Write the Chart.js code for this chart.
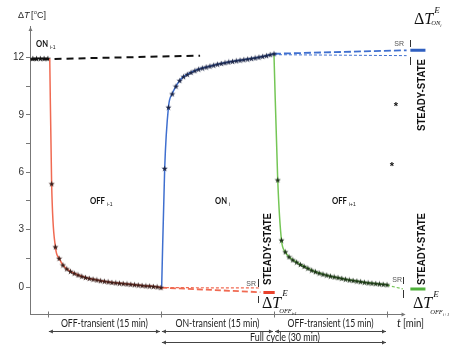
<!DOCTYPE html>
<html><head><meta charset="utf-8">
<script src="https://cdn.jsdelivr.net/npm/chart.js@4/dist/chart.umd.min.js"></script>
<style>html,body{margin:0;padding:0;background:#fff}#wrap{width:454px;height:345px}</style>
</head><body><div id="wrap"><canvas id="c" width="454" height="345"></canvas></div>
<script>
// ---------- data ----------
const yTicks = [0, 1.5, 3, 4.5, 6, 7.5, 9, 10.5, 12];
const yTickLabels = ['0', '', '3', '', '6', '', '9', '', '12'];
const xTicks = [0, 15, 30, 45];

const tOnPrev = [-2, -1.5, -1, -0.5, 0];
const onPrev = [11.95, 11.95, 11.95, 11.95, 11.95];

const tOffPrev = [0.25,0.5,1,1.5,2,2.5,3,3.5,4,4.5,5,5.5,6,6.5,7,7.5,8,8.5,9,9.5,10,10.5,11,11.5,12,12.5,13,13.5,14,14.5,15];
const offPrev = [11.95,5.4,2.1,1.5,1.15,0.95,0.82,0.72,0.63,0.56,0.5,0.45,0.41,0.37,0.33,0.3,0.27,0.24,0.22,0.2,0.18,0.16,0.14,0.12,0.1,0.08,0.06,0.05,0.03,0.01,-0.03];

const tOnCur = [15.1,15.5,16,16.5,17,17.5,18,18.5,19,19.5,20,20.5,21,21.5,22,22.5,23,23.5,24,24.5,25,25.5,26,26.5,27,27.5,28,28.5,29,29.5,30];
const onCur = [-0.03,6.2,9.4,10.1,10.5,10.8,11.0,11.12,11.22,11.31,11.39,11.45,11.5,11.55,11.6,11.65,11.69,11.73,11.77,11.8,11.83,11.86,11.89,11.92,11.95,11.98,12.02,12.06,12.1,12.15,12.2];

const tOffNext = [30,30.5,31,31.5,32,32.5,33,33.5,34,34.5,35,35.5,36,36.5,37,37.5,38,38.5,39,39.5,40,40.5,41,41.5,42,42.5,43,43.5,44,44.5,45];
const offNext = [12.2,5.6,2.45,1.84,1.58,1.42,1.3,1.18,1.08,0.98,0.88,0.8,0.73,0.67,0.62,0.57,0.53,0.49,0.45,0.41,0.37,0.34,0.31,0.28,0.25,0.22,0.2,0.18,0.16,0.14,0.12];

// extrapolation / steady-state lines
const blackRefT = [-2.3, 20.2];   const blackRefV = [11.9, 12.1];
const redExtT = [15, 28.2];       const redExtA = [-0.03, -0.05]; const redExtB = [-0.03, -0.27];
const redSsT = [28.6, 30.1];      const redSsV = [-0.28, -0.28];
const blueExtT = [30, 47.6];      const blueExtA = [12.2, 12.38];  const blueExtB = [12.15, 12.1];
const blueSsT = [48.1, 50.1];     const blueSsV = [12.38, 12.38];
const greenExtT = [45, 47.1];     const greenExtV = [0.1, -0.1];
const greenSsT = [48.1, 50.1];    const greenSsV = [-0.1, -0.1];

// ---------- helpers ----------
const pts = (xs, ys) => xs.map((x, i) => ({x, y: ys[i]}));
function starImg(color){
  const c = document.createElement('canvas'); c.width = 7; c.height = 7;
  const g = c.getContext('2d'); g.fillStyle = color; g.beginPath();
  for (let i = 0; i < 10; i++) { const r = i % 2 ? 1.3 : 3.2; const a = -Math.PI/2 + i*Math.PI/5; g.lineTo(3.5 + r*Math.cos(a), 3.8 + r*Math.sin(a)); }
  g.closePath(); g.fill(); return c;
}
const RED = '#f06a52', BLUE = '#3f6fcf', GREEN = '#74c655';
const starR = starImg('#3a1c18'), starB = starImg('#1c2648'), starG = starImg('#1c3318'), starK = starImg('#111');

function curve(data, color, star){
  return {data, showLine: true, borderColor: color, borderWidth: 1.5, cubicInterpolationMode: 'monotone',
    pointStyle: star, pointRadius: c => c.dataIndex === 0 ? 0 : 3, order: 0};
}
function dline(data, color, width, dash){
  return {data, showLine: true, borderColor: color, borderWidth: width, borderDash: dash || [], pointRadius: 0, order: 1};
}

function fitText(g, s, x, y, font, w, align){
  g.save(); g.font = font; const m = g.measureText(s).width; const k = w ? w / m : 1;
  g.translate(x, y); g.scale(k, 1); g.textAlign = align || 'left'; g.fillText(s, 0, 0); g.restore();
}
function arrowHead(g, x, y, dir){ // dir: 1 right, -1 left
  g.beginPath(); g.moveTo(x, y); g.lineTo(x - dir*4, y - 2); g.lineTo(x - dir*4, y + 2); g.closePath(); g.fill();
}
function dte(g, x, base, sub, subsub, eBase, subBase){
  g.fillStyle = '#111';
  g.font = '16px "Liberation Serif"'; g.textAlign = 'left'; g.fillText('Δ', x, base);
  const w1 = g.measureText('Δ').width;
  g.font = 'italic 16px "Liberation Serif"'; g.fillText('T', x + w1, base);
  const w2 = g.measureText('T').width;
  g.font = 'italic 9px "Liberation Serif"'; g.fillText('E', x + w1 + w2 + 1, eBase);
  g.font = 'italic 6.5px "Liberation Serif"'; const sx = x + w1 + w2 - 2; g.fillText(sub, sx, subBase);
  const w3 = g.measureText(sub).width;
  g.font = 'italic 4.5px "Liberation Serif"'; g.fillText(subsub, sx + w3, subBase + 1.5);
}
function label(g, main, sub, x, base, w){
  g.fillStyle = '#111';
  fitText(g, main, x, base, 'bold 10px Lato', w, 'left');
  g.font = '5px "Liberation Sans"'; g.textAlign = 'left'; g.fillText(sub, x + w + 2, base + 2);
}

const annot = {
  id: 'annot',
  afterDraw(chart){
    const g = chart.ctx, xs = chart.scales.x, ys = chart.scales.y, ca = chart.chartArea;
    const X = v => xs.getPixelForValue(v), Y = v => ys.getPixelForValue(v);
    g.save();
    // axes
    g.strokeStyle = '#777'; g.fillStyle = '#777'; g.lineWidth = 1;
    const xb = Math.round(ca.bottom) + 0.5, xEnd = X(47.2);
    g.beginPath(); g.moveTo(ca.left, xb); g.lineTo(xEnd, xb); g.stroke();
    arrowHead(g, xEnd + 2, xb, 1);
    g.beginPath(); g.moveTo(ca.left + 0.5, ca.top + 1); g.lineTo(ca.left - 1.5, ca.top + 5); g.lineTo(ca.left + 2.5, ca.top + 5); g.closePath(); g.fill();
    xTicks.forEach(t => { const px = Math.round(X(t)) + 0.5; g.beginPath(); g.moveTo(px, xb - 3); g.lineTo(px, xb + 3); g.stroke(); });
    // y axis title
    g.fillStyle = '#222'; g.textAlign = 'left';
    g.font = '9px "Liberation Sans"'; g.fillText('Δ', 18, 18);
    g.font = 'italic 9px "Liberation Sans"'; g.fillText('T', 24, 18);
    g.font = '9px "Liberation Sans"'; g.fillText('[', 31, 18);
    g.font = '5px "Liberation Sans"'; g.fillText('o', 34, 14);
    g.font = '9px "Liberation Sans"'; g.fillText('C]', 37, 18);
    // bottom arrows
    g.strokeStyle = '#444'; g.fillStyle = '#444';
    const seg = (t0, t1, y) => { const a = X(t0) + 1, b = X(t1) - 1; g.beginPath(); g.moveTo(a, y); g.lineTo(b, y); g.stroke(); arrowHead(g, a, y, -1); arrowHead(g, b, y, 1); };
    seg(0, 15, 331.5); seg(15, 30, 331.5); seg(30, 45, 331.5); seg(15, 45, 342.5);
    g.fillStyle = '#222';
    fitText(g, 'OFF-transient (15 min)', X(7.5), 327, '11px Lato', 87, 'center');
    fitText(g, 'ON-transient (15 min)', X(22.5), 327, '11px Lato', 84, 'center');
    fitText(g, 'OFF-transient (15 min)', X(37.5), 327, '11px Lato', 86, 'center');
    fitText(g, 'Full cycle (30 min)', 285, 341, '11px Lato', 70, 'center');
    g.font = 'italic 11px Lato'; g.textAlign = 'left'; g.fillText('t', 397, 327);
    fitText(g, '[min]', 403, 327, '11px Lato', 21, 'left');
    // phase labels
    label(g, 'ON', 'i-1', 36, 47, 12);
    label(g, 'OFF', 'i-1', 90, 204, 15);
    label(g, 'ON', 'i', 215, 204, 12);
    label(g, 'OFF', 'i+1', 332, 204, 15);
    // steady-state texts
    g.fillStyle = '#111';
    [[268, 285], [422, 285], [422, 131]].forEach(([x, y]) => {
      g.save(); g.translate(x, y); g.rotate(-Math.PI/2); g.textBaseline = 'middle';
      fitText(g, 'STEADY-STATE', 0, 0, 'bold 10px "Liberation Sans"', 72, 'left'); g.restore();
    });
    // SR markers
    g.fillStyle = '#555'; g.strokeStyle = '#333';
    const sr = (tx, ty, bx, a0, a1, b0, b1) => {
      g.font = '7px "Liberation Sans"'; g.textAlign = 'right'; g.fillText('SR', tx, ty);
      g.beginPath(); g.moveTo(bx + 0.5, a0); g.lineTo(bx + 0.5, a1); g.moveTo(bx + 0.5, b0); g.lineTo(bx + 0.5, b1); g.stroke();
    };
    sr(256, 286, 258, 279, 287, 296, 303);
    sr(402, 282, 403, 277, 284, 290, 298);
    sr(404, 46, 410, 40, 47, 57, 65);
    // delta T labels
    dte(g, 262, 308, 'OFF', 'i-1', 296, 313);
    dte(g, 414, 24, 'ON', 'i', 13, 25);
    dte(g, 413, 308, 'OFF', 'i+1', 297, 314);
    // asterisks
    g.fillStyle = '#111'; g.font = 'bold 11px "Liberation Sans"'; g.textAlign = 'center';
    g.fillText('*', 396, 110); g.fillText('*', 392, 170);
    g.restore();
  }
};

new Chart(document.getElementById('c'), {
  type: 'scatter',
  data: { datasets: [
    curve(pts(tOffPrev, offPrev), RED, starR),
    curve(pts(tOnCur, onCur), BLUE, starB),
    curve(pts(tOffNext, offNext), GREEN, starG),
    Object.assign(curve(pts(tOnPrev, onPrev), '#111', starK), {pointRadius: 3}),
    dline(pts(blackRefT, blackRefV), '#111', 2, [7, 5]),
    dline(pts(redExtT, redExtA), RED, 1.2, [3, 2]),
    dline(pts(redExtT, redExtB), RED, 1.8, [6, 3]),
    dline(pts(redSsT, redSsV), '#e8402a', 3),
    dline(pts(blueExtT, blueExtA), BLUE, 1.8, [7, 3]),
    dline(pts(blueExtT, blueExtB), BLUE, 1, [3, 2]),
    dline(pts(blueSsT, blueSsV), '#2f5fc0', 3),
    dline(pts(greenExtT, greenExtV), GREEN, 1.2, [3, 2]),
    dline(pts(greenSsT, greenSsV), '#4fb03a', 3)
  ]},
  options: {
    responsive: false, animation: false, devicePixelRatio: 1,
    layout: { padding: { left: 0, right: 2, top: 26, bottom: 31 } },
    plugins: { legend: { display: false }, tooltip: { enabled: false } },
    scales: {
      x: { type: 'linear', display: false, min: -2.37, max: 53.16 },
      y: { type: 'linear', min: -1.41, max: 13.65,
        afterFit: s => { s.width = 30; },
        afterBuildTicks: s => { s.ticks = yTicks.map(v => ({value: v})); },
        ticks: { autoSkip: false, padding: 2, color: '#333', font: { family: 'Liberation Sans', size: 10 },
          callback: (v, i) => yTickLabels[i] },
        grid: { drawOnChartArea: false, drawTicks: true, tickLength: 4, color: '#777' },
        border: { display: true, color: '#777', width: 1 }
      }
    }
  },
  plugins: [annot]
});
</script></body></html>
